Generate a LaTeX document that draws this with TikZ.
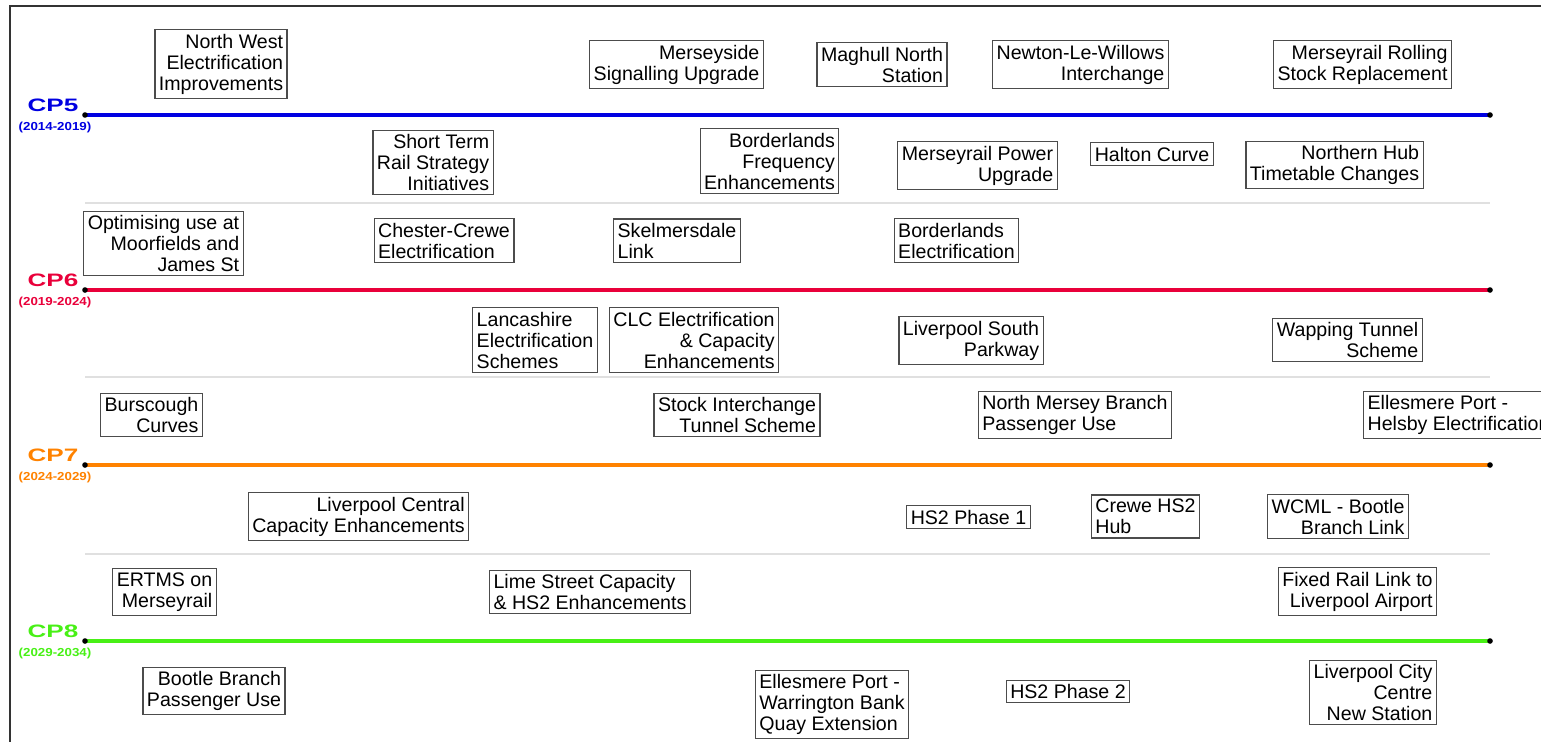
\documentclass[tikz,border=0pt]{standalone}
\usepackage{fontspec}
\setmainfont{Liberation Sans}
\usepackage{tikz}
\usepackage{xcolor}
\definecolor{cpfive}{RGB}{0,0,225}
\definecolor{cpsix}{RGB}{233,0,58}
\definecolor{cpseven}{RGB}{255,130,0}
\definecolor{cpeight}{RGB}{72,240,22}
\tikzstyle{scheme}  = [rectangle, draw=black!70, line width=0.6pt, fill=white,
                       inner xsep=2pt, inner ysep=2pt, font=\fontsize{9.8}{10.5}\selectfont]
\tikzstyle{schemeR} = [scheme, align=right]
\tikzstyle{schemeL} = [scheme, align=left]
\tikzstyle{period}  = [inner sep=0pt, xscale=1.45, transform shape,
                       font=\fontsize{9}{10}\selectfont\bfseries]
\tikzstyle{years}   = [inner sep=0pt, xscale=1.15, transform shape,
                       font=\fontsize{5.8}{6}\selectfont\bfseries]
\tikzstyle{track}   = [line width=2pt]
\tikzstyle{divider} = [line width=0.7pt, black!12]
\tikzstyle{frame}   = [line width=1pt, black!80]

\begin{document}
\begin{tikzpicture}[x=0.5pt, y=-0.5pt]
    \useasboundingbox (0,0) rectangle (1541,741);
    \clip (0,0) rectangle (1541,741);
    \draw[frame] (10,760) -- (10,6) -- (1560,6);

    \coordinate (d1s) at (85,203);  \coordinate (d1e) at (1490,203);
    \coordinate (d2s) at (85,377);  \coordinate (d2e) at (1490,377);
    \coordinate (d3s) at (85,554);  \coordinate (d3e) at (1490,554);
    \draw[divider] (d1s) -- (d1e);
    \draw[divider] (d2s) -- (d2e);
    \draw[divider] (d3s) -- (d3e);

    \coordinate (cp5s) at (85,115);  \coordinate (cp5e) at (1490,115);
    \coordinate (cp6s) at (85,290);  \coordinate (cp6e) at (1490,290);
    \coordinate (cp7s) at (85,465);  \coordinate (cp7e) at (1490,465);
    \coordinate (cp8s) at (85,641);  \coordinate (cp8e) at (1490,641);
    \draw[track, cpfive]  (cp5s) -- (cp5e);
    \draw[track, cpsix]   (cp6s) -- (cp6e);
    \draw[track, cpseven] (cp7s) -- (cp7e);
    \draw[track, cpeight] (cp8s) -- (cp8e);
    \fill (cp5s) circle[radius=1.4pt] (cp5e) circle[radius=1.4pt];
    \fill (cp6s) circle[radius=1.4pt] (cp6e) circle[radius=1.4pt];
    \fill (cp7s) circle[radius=1.4pt] (cp7e) circle[radius=1.4pt];
    \fill (cp8s) circle[radius=1.4pt] (cp8e) circle[radius=1.4pt];

    \node (cp5) [period, text=cpfive]  at (53,105) {CP5};
    \node (cp6) [period, text=cpsix]   at (53,280) {CP6};
    \node (cp7) [period, text=cpseven] at (53,455) {CP7};
    \node (cp8) [period, text=cpeight] at (53,631) {CP8};
    \node (y5) [years, text=cpfive]  at (55,127.5) {(2014-2019)};
    \node (y6) [years, text=cpsix]   at (55,302)   {(2019-2024)};
    \node (y7) [years, text=cpseven] at (55,477)   {(2024-2029)};
    \node (y8) [years, text=cpeight] at (55,653)   {(2029-2034)};

    \node (nwElec)    [schemeR] at (221,64)     {North West\\Electrification\\Improvements};
    \node (mersSig)   [schemeR] at (676.5,64.5) {Merseyside\\Signalling Upgrade};
    \node (maghull)   [schemeR] at (882,64.5)   {Maghull North\\Station};
    \node (newton)    [schemeR] at (1080.5,64.5) {Newton-Le-Willows\\Interchange};
    \node (rolling)   [schemeR] at (1362.5,64.5) {Merseyrail Rolling\\Stock Replacement};
    \node (shortTerm) [schemeR] at (433,162.5)  {Short Term\\Rail Strategy\\Initiatives};
    \node (bordFreq)  [schemeR] at (769.5,161)  {Borderlands\\Frequency\\Enhancements};
    \node (power)     [schemeR] at (977.5,165.5) {Merseyrail Power\\Upgrade};
    \node (halton)    [scheme]  at (1152,154)   {Halton Curve};
    \node (northHub)  [schemeR] at (1334.5,165) {Northern Hub\\Timetable Changes};

    \node (moorfields) [schemeR] at (163.5,243.5) {Optimising use at\\Moorfields and\\James St};
    \node (chester)    [schemeL] at (444,240.5)   {Chester-Crewe\\Electrification};
    \node (skelm)      [schemeL] at (677,240.5)   {Skelmersdale\\Link};
    \node (bordElec)   [schemeL] at (956.5,240.5) {Borderlands\\Electrification};
    \node (lancs)      [schemeL] at (535,340)     {Lancashire\\Electrification\\Schemes};
    \node (clc)        [schemeR] at (694,340)     {CLC Electrification\\\& Capacity\\Enhancements};
    \node (lsp)        [schemeR] at (971,340.5)   {Liverpool South\\Parkway};
    \node (wapping)    [schemeR] at (1347.5,340)  {Wapping Tunnel\\Scheme};

    \node (burscough)   [schemeR] at (151.5,415) {Burscough\\Curves};
    \node (stockInt)    [schemeR] at (737,415)   {Stock Interchange\\Tunnel Scheme};
    \node (northMersey) [schemeL] at (1075,415)  {North Mersey Branch\\Passenger Use};
    \node (ellesHelsby) [schemeL, anchor=west] at (1363,415) {Ellesmere Port -\\Helsby Electrification};
    \node (lpoolCentral) [schemeR] at (358.5,516.5) {Liverpool Central\\Capacity Enhancements};
    \node (hs2pOne)     [scheme]  at (968.5,517)  {HS2 Phase 1};
    \node (creweHub)    [schemeL] at (1145.5,516.5) {Crewe HS2\\Hub};
    \node (wcml)        [schemeR] at (1338,516.5) {WCML - Bootle\\Branch Link};

    \node (ertms)     [schemeR] at (164.5,592)  {ERTMS on\\Merseyrail};
    \node (limeSt)    [schemeL] at (590,592)    {Lime Street Capacity\\\& HS2 Enhancements};
    \node (fixedRail) [schemeR] at (1357.5,591.5) {Fixed Rail Link to\\Liverpool Airport};
    \node (bootle)    [schemeR] at (214,691)    {Bootle Branch\\Passenger Use};
    \node (ellesWarr) [schemeL] at (832,704.5)  {Ellesmere Port -\\Warrington Bank\\Quay Extension};
    \node (hs2pTwo)   [scheme]  at (1068,691.5) {HS2 Phase 2};
    \node (lcc)       [schemeR] at (1373,692.5) {Liverpool City\\Centre\\New Station};
\end{tikzpicture}
\end{document}
